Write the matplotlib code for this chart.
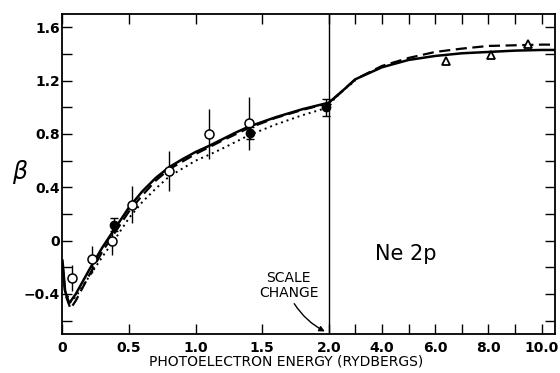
import numpy as np
import matplotlib.pyplot as plt

# photoelectron energy (Rydbergs) and beta for the three calculated curves
solid_x = [0.0, 0.02, 0.05, 0.1, 0.2, 0.3, 0.4, 0.5, 0.6, 0.7, 0.8, 0.9, 1.0, 1.1, 1.2, 1.3,
           1.4, 1.5, 1.6, 1.7, 1.8, 1.9, 2.0, 2.5, 3.0, 4.0, 5.0, 6.0, 7.0, 8.0, 9.0, 10.0, 10.5]
solid_y = [-0.15, -0.38, -0.47, -0.40, -0.22, -0.05, 0.10, 0.25, 0.37, 0.47, 0.55, 0.61, 0.665,
           0.71, 0.76, 0.81, 0.855, 0.89, 0.925, 0.955, 0.985, 1.01, 1.034, 1.12, 1.21, 1.30,
           1.355, 1.385, 1.405, 1.415, 1.425, 1.43, 1.43]

dash_x = [0.0, 0.02, 0.06, 0.1, 0.2, 0.3, 0.4, 0.5, 0.6, 0.7, 0.8, 1.0, 1.2, 1.4, 1.6, 1.8,
          2.0, 2.5, 3.0, 4.0, 5.0, 6.0, 7.0, 8.0, 9.0, 10.0, 10.5]
dash_y = [-0.17, -0.40, -0.51, -0.45, -0.26, -0.08, 0.07, 0.22, 0.34, 0.45, 0.535, 0.65, 0.75,
          0.845, 0.92, 0.98, 1.03, 1.12, 1.21, 1.31, 1.37, 1.415, 1.44, 1.46, 1.465, 1.47, 1.47]

dot_x = [0.0, 0.02, 0.06, 0.1, 0.2, 0.3, 0.4, 0.5, 0.6, 0.7, 0.8, 1.0, 1.1, 1.2, 1.4, 1.5,
         1.6, 1.8, 2.0, 2.2, 2.5, 3.0]
dot_y = [-0.20, -0.38, -0.46, -0.42, -0.27, -0.12, 0.02, 0.17, 0.29, 0.39, 0.48, 0.60, 0.643,
         0.69, 0.79, 0.83, 0.87, 0.94, 1.0, 1.06, 1.12, 1.20]

# measurements
open_x = [0.07, 0.22, 0.37, 0.52, 0.80, 1.10, 1.40]
open_y = [-0.28, -0.14, 0.0, 0.27, 0.52, 0.80, 0.88]
open_err = [0.10, 0.10, 0.11, 0.14, 0.15, 0.19, 0.20]

filled_x = [0.39, 1.41, 1.98]
filled_y = [0.12, 0.81, 1.0]
filled_err = [0.05, 0.045, 0.065]

tri_x = [6.4, 8.1, 9.5]
tri_y = [1.35, 1.395, 1.475]

xtick_vals = [0, 0.5, 1.0, 1.5, 2.0, 4.0, 6.0, 8.0, 10.0]
xtick_labels = ["0", "0.5", "1.0", "1.5", "2.0", "4.0", "6.0", "8.0", "10.0"]
xminor_vals = [3.0, 5.0, 7.0, 9.0]
ytick_vals = [-0.4, 0, 0.4, 0.8, 1.2, 1.6]
ytick_labels = ["\u22120.4", "0", "0.4", "0.8", "1.2", "1.6"]


# scale change at 2.0: above it the axis is compressed by 5
def fwd(x):
    x = np.asarray(x, dtype=float)
    return np.where(x <= 2.0, x, 2.0 + (x - 2.0) / 5.0)


def inv(u):
    u = np.asarray(u, dtype=float)
    return np.where(u <= 2.0, u, 2.0 + (u - 2.0) * 5.0)


plt.rcParams['font.family'] = ['DejaVu Sans']
fig = plt.figure(figsize=(5.6, 3.73), dpi=100)
ax = fig.add_axes([0.1116, 0.1046, 0.8794, 0.858])
ax.set_xscale('function', functions=(fwd, inv))
ax.set_xlim(0, 10.5)
ax.set_ylim(-0.70, 1.70)

ax.plot(solid_x, solid_y, color='k', lw=1.8)
ax.plot(dash_x, dash_y, color='k', lw=1.6, dashes=(5, 2.5))
ax.plot(dot_x, dot_y, color='k', lw=1.4, ls=(0, (1, 2)))

ax.errorbar(open_x, open_y, yerr=open_err, fmt='o', ms=6.5, mfc='white', mec='k',
            mew=1.1, ecolor='k', elinewidth=1.0, capsize=0, zorder=4)
ax.errorbar(filled_x, filled_y, yerr=filled_err, fmt='o', ms=6, mfc='k', mec='k',
            ecolor='k', elinewidth=1.0, capsize=3, capthick=1.0, zorder=5)
ax.plot(tri_x, tri_y, '^', ms=6, mfc='white', mec='k', mew=1.3, zorder=4)

ax.axvline(2.0, color='k', lw=1.0)

ax.set_xticks(xtick_vals)
ax.set_xticklabels(xtick_labels)
ax.set_xticks(xminor_vals, minor=True)
ax.set_yticks(ytick_vals)
ax.set_yticklabels(ytick_labels)
ax.set_yticks(np.arange(-0.6, 1.61, 0.2), minor=True)
ax.tick_params(which='both', direction='in', top=True, right=True, length=7, width=1.0,
               labelsize=10)
ax.tick_params(axis='x', which='major', pad=5)
ax.tick_params(axis='y', which='major', pad=2)
for lbl in ax.get_xticklabels() + ax.get_yticklabels():
    lbl.set_fontweight('bold')
for s in ax.spines.values():
    s.set_linewidth(1.3)

ax.set_xlabel("PHOTOELECTRON ENERGY (RYDBERGS)", fontsize=10)
ax.xaxis.set_label_coords(0.455, -0.065)
ax.set_ylabel("\u03b2", fontsize=17, rotation=0, style='italic', labelpad=10)
ax.yaxis.set_label_coords(-0.088, 0.47)

ax.text(4.9, -0.10, "Ne 2p", fontsize=15, ha='center', va='center')
ax.text(1.7, -0.335, "SCALE\nCHANGE", fontsize=10, ha='center', va='center',
        linespacing=1.1)
ax.annotate("", xy=(1.99, -0.69), xytext=(1.73, -0.455),
            arrowprops=dict(arrowstyle='-|>', color='k', lw=1.0, mutation_scale=8,
                            connectionstyle='arc3,rad=0.15'))

fig.savefig("out.png", dpi=100, facecolor='white')
